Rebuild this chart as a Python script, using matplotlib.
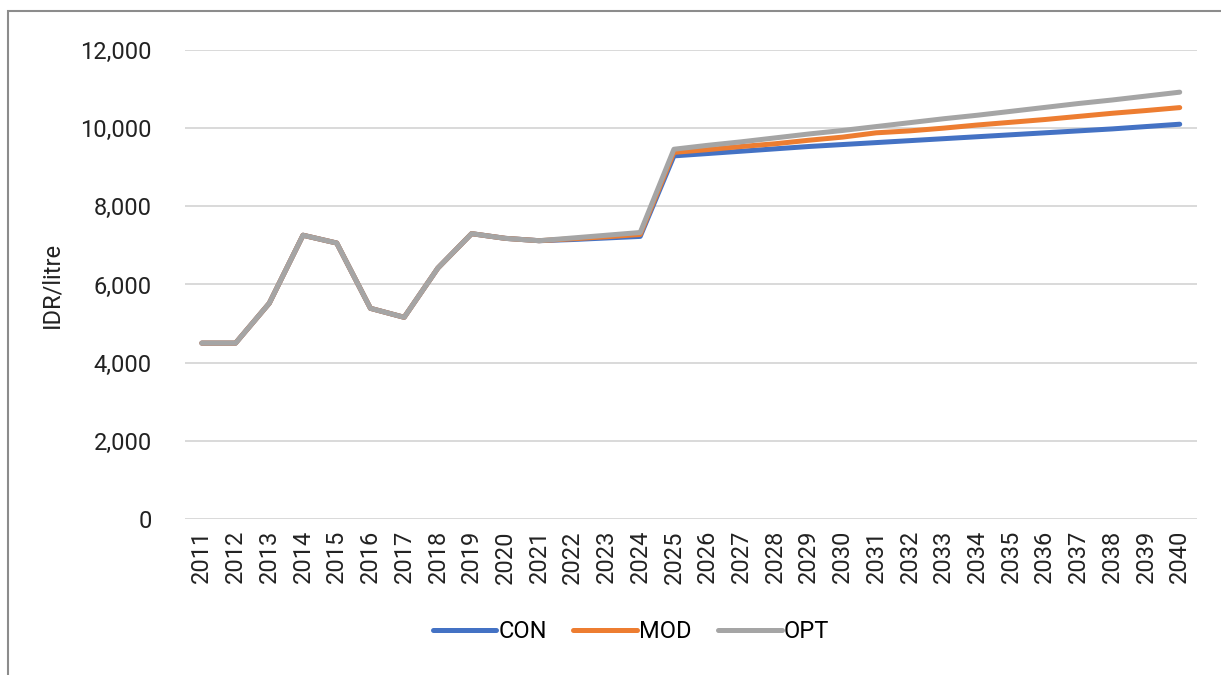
import matplotlib.pyplot as plt
from matplotlib.patches import Rectangle
from matplotlib.ticker import FuncFormatter

plt.rcParams['font.family'] = ['Roboto', 'DejaVu Sans']

years = list(range(2011, 2041))
con = [4500, 4500, 5520, 7260, 7060, 5390, 5160, 6420, 7300, 7180, 7120, 7150, 7190, 7230,
       9290, 9350, 9410, 9470, 9530, 9580, 9630, 9680, 9730, 9780, 9830, 9880, 9930, 9980, 10040, 10100]
mod = [4500, 4500, 5520, 7260, 7060, 5390, 5160, 6420, 7300, 7180, 7120, 7170, 7220, 7280,
       9380, 9450, 9530, 9600, 9690, 9770, 9880, 9930, 10000, 10080, 10150, 10220, 10300, 10380, 10450, 10525]
opt = [4500, 4500, 5520, 7260, 7060, 5390, 5160, 6420, 7300, 7180, 7120, 7190, 7260, 7330,
       9460, 9560, 9650, 9750, 9850, 9940, 10040, 10140, 10240, 10330, 10430, 10530, 10630, 10720, 10820, 10920]

fig = plt.figure(figsize=(12.21, 6.75), dpi=100)
ax = fig.add_axes([0.1515, 0.2311, 0.8285, 0.6949])

x = range(len(years))
ax.plot(x, con, color='#4472c4', lw=3.6, solid_capstyle='round', label='CON')
ax.plot(x, mod, color='#ed7d31', lw=3.6, solid_capstyle='round', label='MOD')
ax.plot(x, opt, color='#a5a5a5', lw=3.6, solid_capstyle='round', label='OPT')

ax.set_xlim(-0.5, len(years) - 0.5)
ax.set_ylim(0, 12000)
ax.set_yticks(range(0, 12001, 2000))
ax.yaxis.set_major_formatter(FuncFormatter(lambda v, p: f'{int(v):,}'))
ax.set_xticks(list(x))
ax.set_xticklabels([str(y) for y in years], rotation=90)
ax.tick_params(length=0, labelsize=17, colors='#222222')
ax.tick_params(axis='y', pad=24)
ax.tick_params(axis='x', pad=8)
ax.grid(axis='y', color='#d9d9d9', lw=1.4)
ax.set_axisbelow(True)
for s in ax.spines.values():
    s.set_visible(False)
ax.set_ylabel('IDR/litre', fontsize=17, color='#222222', labelpad=12)

fig.legend(loc='center', bbox_to_anchor=(631 / 1221, 1 - 632 / 675), ncol=3, frameon=False,
           fontsize=17, handlelength=2.7, handletextpad=0.1, columnspacing=1.1)

# outer chart border
fig.patches.append(Rectangle((8 / 1221, -0.1), 1.2, 1 - 11 / 675 + 0.1, transform=fig.transFigure,
                             fill=False, edgecolor='#8c8c8c', lw=1.5))

fig.savefig('out.png', dpi=100)
